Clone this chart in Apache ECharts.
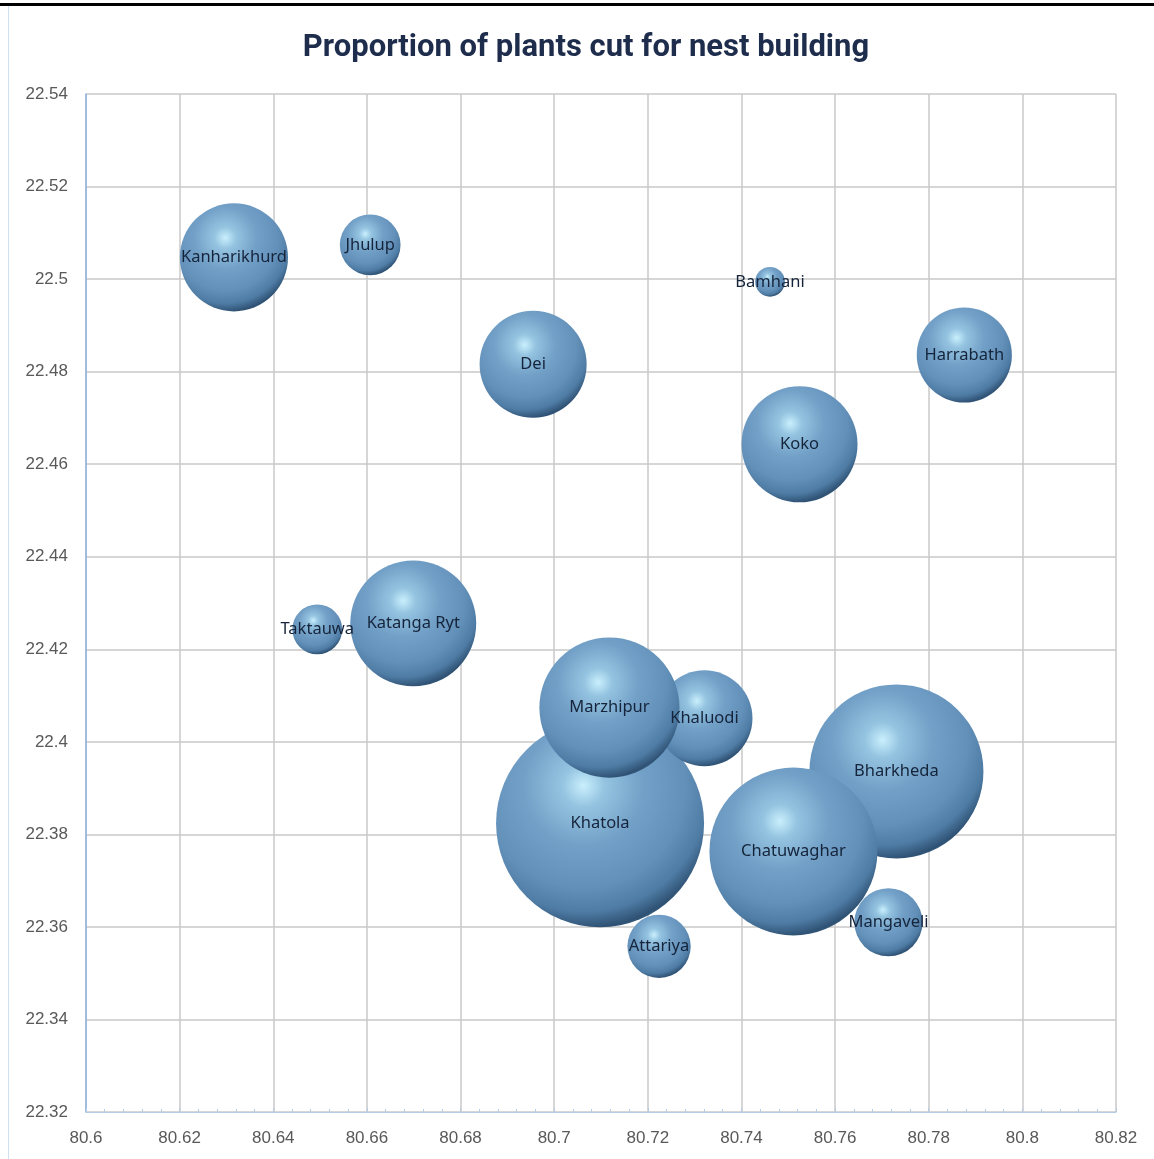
<!DOCTYPE html>
<html>
<head>
<meta charset="utf-8">
<script src="https://cdn.jsdelivr.net/npm/echarts@6/dist/echarts.min.js"></script>
<style>
  html, body { margin: 0; padding: 0; background: #fff; }
  #chart { width: 1154px; height: 1159px; }
</style>
</head>
<body>
<div id="chart"></div>
<script>
  // villages, location (longitude / latitude) and proportion of plants cut (%)
  var villages = ['Kanharikhurd', 'Jhulup', 'Bamhani', 'Dei', 'Harrabath', 'Koko', 'Taktauwa', 'Katanga Ryt',
    'Khatola', 'Khaluodi', 'Marzhipur', 'Bharkheda', 'Chatuwaghar', 'Mangaveli', 'Attariya'];
  var longitude = [80.6316, 80.6607, 80.7461, 80.6955, 80.7876, 80.7524, 80.6494, 80.6699,
    80.7098, 80.7321, 80.7118, 80.7731, 80.7511, 80.7714, 80.7224];
  var latitude = [22.5047, 22.5074, 22.4994, 22.4816, 22.4836, 22.4643, 22.4243, 22.4256,
    22.3824, 22.4051, 22.4074, 22.3936, 22.3763, 22.3610, 22.3558];
  var proportion = [14.6, 4.6, 1.1, 14.3, 11.3, 16.8, 3.1, 19.8,
    54.0, 11.5, 24.5, 37.8, 35.2, 5.8, 5.0];

  var xTicks = { min: 80.6, max: 80.82, step: 0.02 };
  var yTicks = { min: 22.32, max: 22.54, step: 0.02 };

  var chart = echarts.init(document.getElementById('chart'));

  var points = villages.map(function (v, i) {
    return { name: v, value: [longitude[i], latitude[i], proportion[i]] };
  });
  var maxP = Math.max.apply(null, proportion);

  // 3D-ish steel blue bubble
  var bubble = {
    type: 'radial', x: 0.42, y: 0.32, r: 0.72,
    colorStops: [
      { offset: 0, color: '#c9effc' },
      { offset: 0.14, color: '#95c4e1' },
      { offset: 0.4, color: '#72a0c7' },
      { offset: 0.68, color: '#6290b9' },
      { offset: 0.84, color: '#4f7ca5' },
      { offset: 0.95, color: '#2f5274' },
      { offset: 1, color: '#3d6485' }
    ]
  };

  var option = {
    backgroundColor: '#fff',
    animation: false,
    title: {
      text: 'Proportion of plants cut for nest building',
      left: 581,
      textAlign: 'center',
      top: 28,
      textStyle: {
        fontFamily: 'Roboto',
        fontWeight: 'bold',
        fontSize: 31,
        color: '#1f2d4d'
      }
    },
    graphic: [
      { type: 'rect', shape: { x: 0, y: 3, width: 1154, height: 3 }, style: { fill: '#000' } },
      { type: 'rect', shape: { x: 8, y: 6, width: 1, height: 1153 }, style: { fill: '#cfe0f0' } }
    ],
    grid: { left: 86, right: 38, top: 94, bottom: 47 },
    xAxis: {
      type: 'value',
      min: xTicks.min, max: xTicks.max, interval: xTicks.step,
      axisLine: { show: true, lineStyle: { color: '#b4cce6', width: 1 } },
      axisTick: { show: true, inside: true, length: 4, lineStyle: { color: '#b4cce6' } },
      minorTick: { show: true, splitNumber: 5, length: 3, lineStyle: { color: '#b4cce6' } },
      splitLine: { show: true, lineStyle: { color: '#c8c8c8', width: 1.5 } },
      axisLabel: {
        margin: 18, color: '#595959', fontSize: 17, fontFamily: 'Liberation Sans',
        formatter: function (v) { return String(+v.toFixed(2)); }
      }
    },
    yAxis: {
      type: 'value',
      min: yTicks.min, max: yTicks.max, interval: yTicks.step,
      axisLine: { show: true, lineStyle: { color: '#8fb3e0', width: 1.5 } },
      axisTick: { show: false },
      splitLine: { show: true, lineStyle: { color: '#c8c8c8', width: 1.5 } },
      axisLabel: {
        margin: 18, color: '#595959', fontSize: 17, fontFamily: 'Liberation Sans',
        formatter: function (v) { return String(+v.toFixed(2)); }
      }
    },
    series: [{
      type: 'scatter',
      data: points,
      symbol: 'circle',
      symbolSize: function (val) { return 208 * Math.sqrt(val[2] / maxP); },
      itemStyle: { color: bubble, opacity: 1 },
      label: {
        show: true,
        position: 'inside',
        formatter: '{b}',
        color: '#15243a',
        fontSize: 16.5,
        fontFamily: 'Noto Sans'
      },
      emphasis: { disabled: true }
    }]
  };

  chart.setOption(option);
</script>
</body>
</html>
